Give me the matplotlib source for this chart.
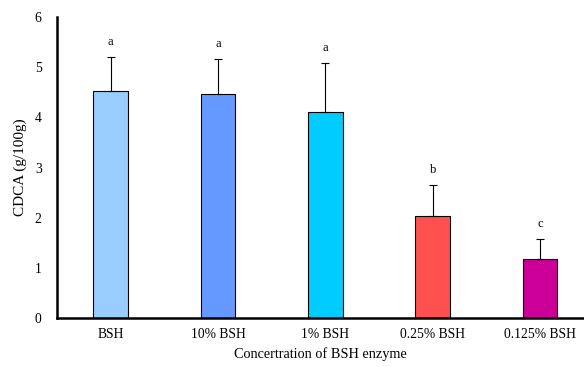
import matplotlib
matplotlib.use("Agg")
import matplotlib.pyplot as plt

categories = ["BSH", "10% BSH", "1% BSH", "0.25% BSH", "0.125% BSH"]
values = [4.52, 4.46, 4.10, 2.03, 1.18]
errors = [0.69, 0.71, 0.99, 0.62, 0.40]
letters = ["a", "a", "a", "b", "c"]
colors = ["#99CCFF", "#6699FF", "#00CCFF", "#FF5050", "#CC0099"]

plt.rcParams['font.family'] = ['Liberation Serif', 'DejaVu Serif']

fig = plt.figure(figsize=(5.84, 3.67), dpi=100)
ax = fig.add_axes([0.0976, 0.1335, 0.9024, 0.82])

x = list(range(len(categories)))
ax.bar(x, values, width=0.32, color=colors, edgecolor="black", linewidth=0.8, zorder=2)
ax.errorbar(x, values, yerr=[[0]*len(errors), errors], fmt="none", ecolor="black",
            elinewidth=0.8, capsize=3, capthick=0.8, zorder=3)
for xi, v, e, l in zip(x, values, errors, letters):
    ax.text(xi, v + e + 0.3, l, ha="center", va="center", fontsize=9)

ax.set_xlim(-0.5, 4.41)
ax.set_ylim(0, 6)
ax.set_yticks([0, 1, 2, 3, 4, 5, 6])
ax.set_xticks(x)
ax.set_xticklabels(categories, fontsize=9.8)
ax.tick_params(axis="y", labelsize=9.8, length=0, pad=11)
ax.tick_params(axis="x", length=0, pad=7)
for s in ["top", "right"]:
    ax.spines[s].set_visible(False)
ax.spines["left"].set_linewidth(1.8)
ax.spines["bottom"].set_linewidth(1.8)
ax.set_ylabel("CDCA (g/100g)", fontsize=11, labelpad=6)
ax.set_xlabel("Concertration of BSH enzyme", fontsize=10.3, labelpad=5)

fig.savefig("out.png", dpi=100)
